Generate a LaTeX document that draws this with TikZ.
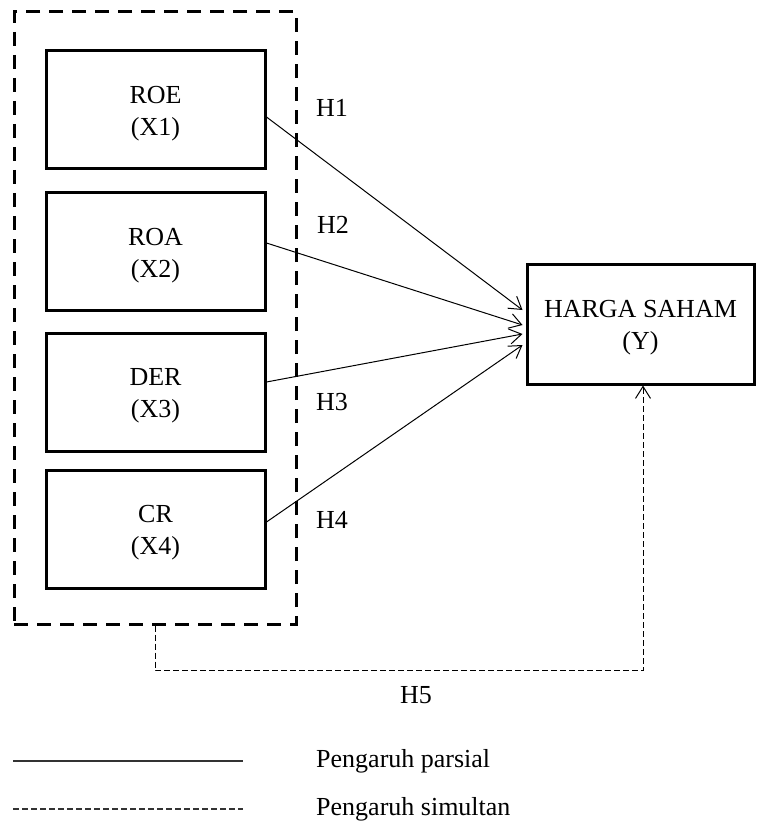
\documentclass[tikz,border=0pt]{standalone}
\usepackage{fontspec}
\setmainfont{Liberation Serif}
\usetikzlibrary{arrows.meta,calc}
\begin{document}
\begin{tikzpicture}[x=1pt,y=-1pt,
  every node/.style={font=\fontsize{26}{32}\selectfont},
  varbox/.style={draw,line width=3pt,minimum width=219pt,minimum height=118pt,inner sep=0pt},
  vtext/.style={align=center,inner sep=0pt},
  grpbox/.style={draw,line width=3pt,dash pattern=on 14pt off 9pt,minimum width=282pt,minimum height=612pt,inner sep=0pt},
  parsial/.style={line width=1pt,-{Straight Barb[length=12pt,width=15pt,line width=1pt]}},
  simul/.style={line width=1pt,dash pattern=on 6pt off 3pt,-{Straight Barb[length=12pt,width=15pt,line width=1pt]}},
  hlab/.style={inner sep=0pt}
]
\useasboundingbox (0,0) rectangle (756,826);
\node[grpbox] (grp) at (155,318) {};
\node[varbox] (roe) at (155.5,110) {};
\node[varbox] (roa) at (155.5,251.5) {};
\node[varbox] (der) at (155.5,392) {};
\node[varbox] (cr) at (155.5,529) {};
\node[varbox,minimum width=227pt,minimum height=120pt] (hs) at (640.5,324) {};
\node[vtext] (roet) at ($(roe.center)+(0,4)$) {ROE\\(X1)};
\node[vtext] (roat) at ($(roa.center)+(0,4)$) {ROA\\(X2)};
\node[vtext] (dert) at ($(der.center)+(0,4)$) {DER\\(X3)};
\node[vtext] (crt) at ($(cr.center)+(0,4)$) {CR\\(X4)};
\node[vtext] (hst) at ($(hs.center)+(0,4)$) {HARGA SAHAM\\(Y)};

\draw[parsial] ($(roe.east)+(0,7)$) -- ($(hs.west)+(-3,-14)$);
\draw[parsial] ($(roa.east)+(0,-8.5)$) -- ($(hs.west)+(-3,1)$);
\draw[parsial] ($(der.east)+(0,-10)$) -- ($(hs.west)+(-3,10)$);
\draw[parsial] ($(cr.east)+(0,-7)$) -- ($(hs.west)+(-3,21)$);
\draw[simul] (grp.south) -- ++(0,45) -| ($(hs.south)+(2.5,0)$);

\node[hlab] (h1) at (332,108) {H1};
\node[hlab] (h2) at (333,225) {H2};
\node[hlab] (h3) at (332,402) {H3};
\node[hlab] (h4) at (332,520) {H4};
\node[hlab] (h5) at (416,695) {H5};

\coordinate (l1a) at (13,761);
\coordinate (l1b) at (243,761);
\coordinate (l2a) at (13,809);
\coordinate (l2b) at (243,809);
\draw[line width=1.1pt,black!80] (l1a) -- (l1b);
\draw[line width=1.1pt,black!80,dash pattern=on 6pt off 3pt] (l2a) -- (l2b);
\node[anchor=west,inner sep=0pt] (lt1) at (316,761) {Pengaruh parsial};
\node[anchor=west,inner sep=0pt] (lt2) at (316,809) {Pengaruh simultan};
\end{tikzpicture}
\end{document}
